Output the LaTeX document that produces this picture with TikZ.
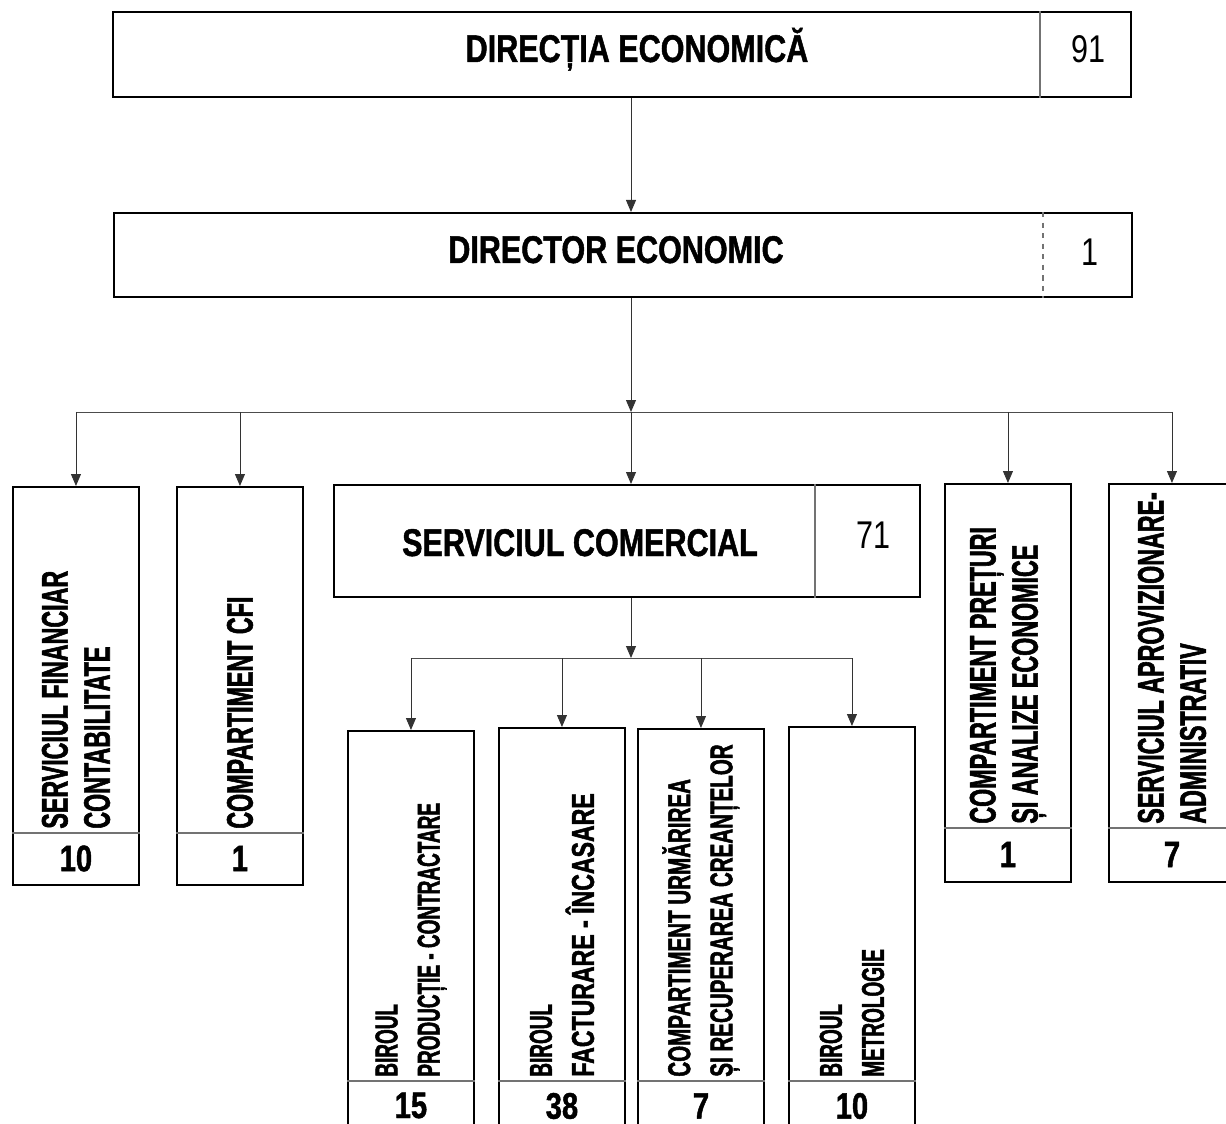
\documentclass[tikz,border=0pt]{standalone}
\usepackage{fontspec}
\usetikzlibrary{arrows.meta}
\newfontfamily\headfont{Liberation Sans}[FakeStretch=0.79, BoldFeatures={FakeBold=1.2}]
\newfontfamily\unitfont{Liberation Sans}[FakeStretch=0.63, BoldFeatures={FakeBold=1.5}]
\newfontfamily\subfont{Liberation Sans}[FakeStretch=0.6, BoldFeatures={FakeBold=1.5}]
\newfontfamily\midfont{Liberation Sans}[FakeStretch=0.65, BoldFeatures={FakeBold=1.5}]
\newfontfamily\widefont{Liberation Sans}[FakeStretch=0.73, BoldFeatures={FakeBold=1.5}]
\tikzstyle{orgbox}=[draw=black, line width=1.1pt, inner sep=0pt, anchor=north west]
\tikzstyle{unitbox}=[orgbox, minimum width=2.52cm]
\tikzstyle{divider}=[draw=black!55, line width=0.6pt]
\tikzstyle{line}=[draw, line width=0.5pt, color=black!80,
  -{Triangle[length=0.24cm,width=0.2cm]}]
\tikzstyle{bus}=[draw, line width=0.5pt, color=black!70]
\tikzstyle{headtitle}=[anchor=base, inner sep=0pt,
  font=\headfont\bfseries\fontsize{22}{26}\selectfont]
\tikzstyle{headstaff}=[anchor=base, inner sep=0pt,
  font=\headfont\fontsize{22}{26}\selectfont]
\tikzstyle{staff}=[inner sep=0pt, font=\headfont\bfseries\fontsize{21}{25}\selectfont]
\tikzstyle{vtext}=[rotate=90, anchor=west, align=left, inner sep=0pt,
  font=\unitfont\bfseries\fontsize{21}{24}\selectfont]
\tikzstyle{vsubtext}=[vtext, font=\subfont\bfseries\fontsize{18}{24}\selectfont]
\newcommand{\headElt}[7]{%
  \node (#1) [orgbox, minimum width={#4*0.02cm}, minimum height={#5*0.02cm}]
    at (#2,#3) {};
  \draw [divider, #7] (#1.north -| #6,0) -- (#1.south -| #6,0);}
\newcommand{\unitElt}[8]{%
  \node (#1) [unitbox, minimum height={#4*0.02cm}] at (#2,#3) {};
  \draw [divider] (#1.west |- 0,#5) -- (#1.east |- 0,#5);
  \node (#1-t) [#6] at (#1.center |- 0,{#5-4}) {#7};
  \node (#1-n) [staff] at (#1.center |- 0,{(#5+#3+#4)/2}) {#8};}

\begin{document}
\begin{tikzpicture}[x=0.02cm, y=-0.02cm]
  \useasboundingbox (0,0) rectangle (1226,1124);
  \clip (0,0) rectangle (1226,1124);

  % Head boxes
  \headElt{dirEc}{112}{11}{1018}{85}{1040}{}
  \node (dirEc-t) [headtitle] at (637,62) {DIRECȚIA ECONOMICĂ};
  \node (dirEc-n) [headstaff] at (1088,63) {91};
  \headElt{dirEco}{113}{212}{1018}{84}{1043}{dashed}
  \node (dirEco-t) [headtitle] at (616,263) {DIRECTOR ECONOMIC};
  \node (dirEco-n) [headstaff] at (1090,266) {1};
  \headElt{serCom}{333}{484}{586}{112}{815}{}
  \node (serCom-t) [headtitle] at (580,556) {SERVICIUL COMERCIAL};
  \node (serCom-n) [headstaff] at (873,548) {71};

  % Units under the economic director
  \unitElt{sfc}{12}{486}{398}{833}{vtext}{SERVICIUL FINANCIAR\\CONTABILITATE}{10}
  \unitElt{cfi}{176}{486}{398}{833}{vtext}{COMPARTIMENT CFI}{1}
  \unitElt{cpae}{944}{483}{398}{828}{vtext}{COMPARTIMENT PREȚURI\\ȘI ANALIZE ECONOMICE}{1}
  \unitElt{saa}{1108}{483}{398}{828}{vtext}{SERVICIUL APROVIZIONARE-\\ADMINISTRATIV}{7}

  % Units under the commercial service
  \unitElt{bpc}{347}{730}{400}{1081}{vsubtext}{BIROUL\\PRODUCȚIE - CONTRACTARE}{15}
  \unitElt{bfi}{498}{727}{404}{1081}{vsubtext}{BIROUL\\{\widefont FACTURARE - ÎNCASARE}}{38}
  \unitElt{curc}{637}{728}{403}{1081}{vsubtext}{\midfont COMPARTIMENT URMĂRIREA\\\midfont ȘI RECUPERAREA CREANȚELOR}{7}
  \unitElt{bm}{788}{726}{405}{1081}{vsubtext}{BIROUL\\METROLOGIE}{10}

  % Draw connectors
  \coordinate (bus1) at (631,412);
  \coordinate (bus2) at (631,658);
  \path [line] (dirEc.south -| bus1) -- (dirEco.north -| bus1);
  \path [line] (dirEco.south -| bus1) -- (bus1);
  \path [bus] (sfc.north |- bus1) -- (saa.north |- bus1);
  \foreach \n in {sfc,cfi,cpae,saa}
    \path [line] (\n.north |- bus1) -- (\n.north);
  \path [line] (bus1) -- (serCom.north -| bus1);
  \path [line] (serCom.south -| bus2) -- (bus2);
  \path [bus] (bpc.north |- bus2) -- (bm.north |- bus2);
  \foreach \n in {bpc,bfi,curc,bm}
    \path [line] (\n.north |- bus2) -- (\n.north);
\end{tikzpicture}
\end{document}
